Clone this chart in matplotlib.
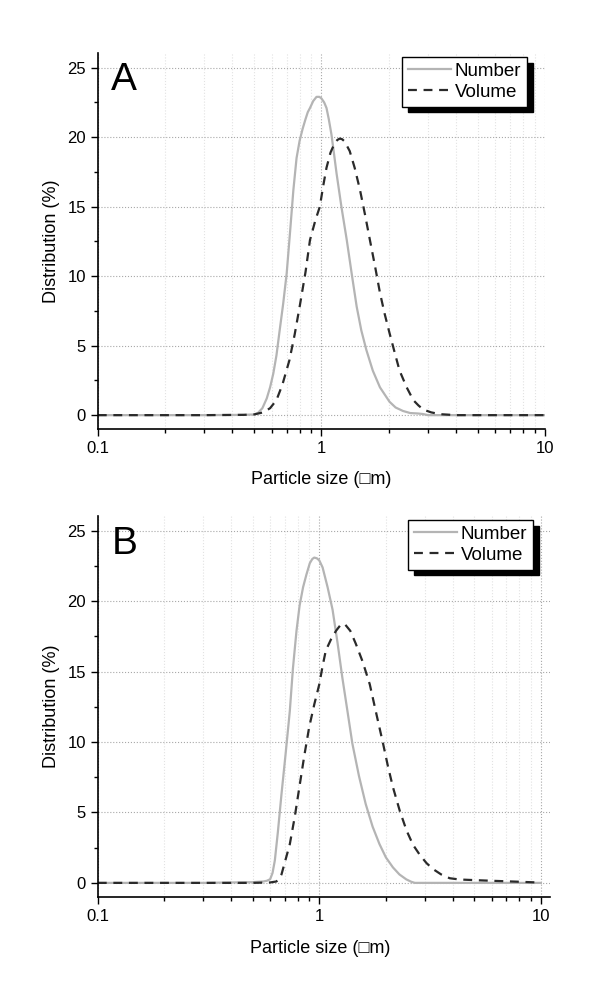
import matplotlib
matplotlib.use('Agg')
import matplotlib.pyplot as plt
from matplotlib.ticker import LogLocator, FixedLocator, MultipleLocator, NullFormatter

plt.rcParams['font.family'] = ['Liberation Sans', 'DejaVu Sans']

# Panel A
a_num_x = [0.1, 0.3, 0.45, 0.5, 0.52, 0.545, 0.57, 0.59, 0.61, 0.63, 0.65, 0.675, 0.70,
           0.725, 0.75, 0.775, 0.80, 0.825, 0.85, 0.87, 0.89, 0.92, 0.952, 0.98,
           1.0, 1.03, 1.055, 1.08, 1.11, 1.14, 1.17, 1.23, 1.30, 1.37, 1.44, 1.51,
           1.59, 1.70, 1.83, 2.02, 2.15, 2.32, 2.5, 2.7, 2.85, 3.0, 10]
a_num_y = [0.0, 0.0, 0.02, 0.05, 0.15, 0.5, 1.2, 2.0, 3.0, 4.3, 6.0, 8.0, 10.2,
           13.2, 16.2, 18.5, 19.75, 20.6, 21.3, 21.8, 22.1, 22.6, 22.9, 22.9,
           22.8, 22.5, 22.1, 21.3, 20.2, 18.8, 17.4, 15.0, 12.6, 10.1, 7.8, 6.1,
           4.7, 3.2, 2.0, 0.96, 0.55, 0.3, 0.15, 0.12, 0.08, 0.0, 0.0]
a_vol_x = [0.1, 0.3, 0.45, 0.5, 0.55, 0.59, 0.63, 0.67, 0.72, 0.76, 0.80, 0.85, 0.89,
           0.94, 0.985, 1.02, 1.055, 1.10, 1.15, 1.18, 1.21, 1.24, 1.27, 1.30, 1.34,
           1.41, 1.49, 1.57, 1.65, 1.74, 1.83, 1.92, 2.02, 2.13, 2.24, 2.41, 2.58,
           2.72, 2.86, 3.1, 3.4, 4.0, 10]
a_vol_y = [0.0, 0.0, 0.02, 0.05, 0.2, 0.5, 1.08, 2.2, 3.95, 5.8, 7.8, 10.3, 12.6,
           14.0, 15.0, 16.5, 17.8, 18.9, 19.6, 19.8, 19.9, 19.85, 19.7, 19.4, 19.0,
           17.8, 16.2, 14.4, 12.6, 10.7, 8.8, 7.3, 5.9, 4.5, 3.2, 2.0, 1.08,
           0.7, 0.4, 0.2, 0.07, 0.0, 0.0]

# Panel B
b_num_x = [0.1, 0.3, 0.5, 0.56, 0.58, 0.60, 0.615, 0.63, 0.65, 0.675, 0.705, 0.736,
           0.76, 0.789, 0.815, 0.845, 0.875, 0.906, 0.93, 0.949, 0.975, 1.0, 1.035,
           1.09, 1.148, 1.21, 1.27, 1.34, 1.41, 1.51, 1.62, 1.74, 1.87, 2.0, 2.15,
           2.3, 2.47, 2.6, 2.7, 3.0, 10]
b_num_y = [0.0, 0.0, 0.05, 0.1, 0.15, 0.26, 0.7, 1.6, 3.6, 6.3, 9.2, 12.2,
           15.2, 17.9, 19.7, 21.0, 21.9, 22.7, 23.0, 23.1, 23.05, 22.9, 22.4,
           21.0, 19.4, 17.0, 14.6, 12.2, 9.9, 7.6, 5.6, 4.0, 2.75, 1.8, 1.1,
           0.6, 0.25, 0.08, 0.0, 0.0, 0.0]
b_vol_x = [0.1, 0.3, 0.5, 0.6, 0.64, 0.66, 0.675, 0.70, 0.736, 0.775, 0.813, 0.855,
           0.90, 0.95, 1.0, 1.035, 1.07, 1.13, 1.19, 1.245, 1.30, 1.38, 1.46, 1.57,
           1.69, 1.81, 1.94, 2.04, 2.15, 2.31, 2.48, 2.65, 2.84, 3.05, 3.27, 3.55,
           3.88, 4.3, 4.95, 6.0, 8.0, 10]
b_vol_y = [0.0, 0.0, 0.0, 0.03, 0.1, 0.3, 0.6, 1.5, 2.75, 4.7, 6.8, 9.0,
           11.05, 12.7, 14.1, 15.4, 16.5, 17.3, 17.9, 18.3, 18.4, 17.9, 17.0, 15.7,
           14.1, 12.0, 9.9, 8.3, 6.8, 5.1, 3.7, 2.7, 2.0, 1.4, 0.97, 0.6,
           0.33, 0.24, 0.2, 0.15, 0.08, 0.02]

# letter, data, axes rect, x max, legend corner (figure fraction), xlabel x pos
panels = [
    ('A', a_num_x, a_num_y, a_vol_x, a_vol_y, [0.163, 0.5675, 0.745, 0.379], 10,
     (527 / 600, 1 - 57 / 992), 0.5),
    ('B', b_num_x, b_num_y, b_vol_x, b_vol_y, [0.163, 0.0958, 0.7533, 0.384], 10.98,
     (533 / 600, 1 - 520 / 992), 0.493),
]

fig = plt.figure(figsize=(6, 9.92), dpi=100)

for letter, nx, ny, vx, vy, rect, xmax, leg_xy, xlab_x in panels:
    ax = fig.add_axes(rect)
    ax.plot(nx, ny, color='#b4b4b4', lw=1.6, label='Number')
    ax.plot(vx, vy, color='#2a2a2a', lw=1.6, ls=(0, (4, 3)), label='Volume')
    ax.set_xscale('log')
    ax.set_xlim(0.1, xmax)
    ax.set_ylim(-1, 26.05)

    ax.xaxis.set_major_locator(FixedLocator([0.1, 1, 10]))
    ax.set_xticklabels(['0.1', '1', '10'])
    ax.xaxis.set_minor_locator(LogLocator(base=10, subs=range(2, 10)))
    ax.xaxis.set_minor_formatter(NullFormatter())
    ax.yaxis.set_major_locator(FixedLocator([0, 5, 10, 15, 20, 25]))
    ax.yaxis.set_minor_locator(MultipleLocator(2.5))

    ax.tick_params(which='major', direction='out', length=5, width=1, labelsize=12)
    ax.tick_params(which='minor', direction='out', length=3, width=1)
    ax.grid(True, which='major', ls=':', color='#a8a8a8', lw=0.8)
    ax.grid(True, which='minor', axis='x', ls=':', color='#e2e2e2', lw=0.8)
    ax.set_axisbelow(True)

    ax.spines['top'].set_visible(False)
    ax.spines['right'].set_visible(False)
    ax.spines['left'].set_linewidth(1.2)
    ax.spines['bottom'].set_linewidth(1.2)

    ax.set_xlabel('Particle size (\u25a1m)', fontsize=13)
    ax.set_ylabel('Distribution (%)', fontsize=13, labelpad=5)
    ax.xaxis.set_label_coords(xlab_x, -0.112)

    ax.text(0.03, 0.975, letter, transform=ax.transAxes, fontsize=28,
            va='top', ha='left')

    leg = ax.legend(loc='upper right', bbox_to_anchor=leg_xy,
                    bbox_transform=fig.transFigure, fontsize=13.5,
                    frameon=True, fancybox=False, handlelength=2.3,
                    handletextpad=0.2, borderpad=0.3, labelspacing=0.22,
                    borderaxespad=0.0,
                    shadow={'ox': 4, 'oy': -4, 'color': 'black', 'alpha': 1})
    leg.get_frame().set_edgecolor('black')
    leg.get_frame().set_linewidth(1.0)
    leg.get_frame().set_alpha(1)

plt.savefig('out.png', dpi=100)
